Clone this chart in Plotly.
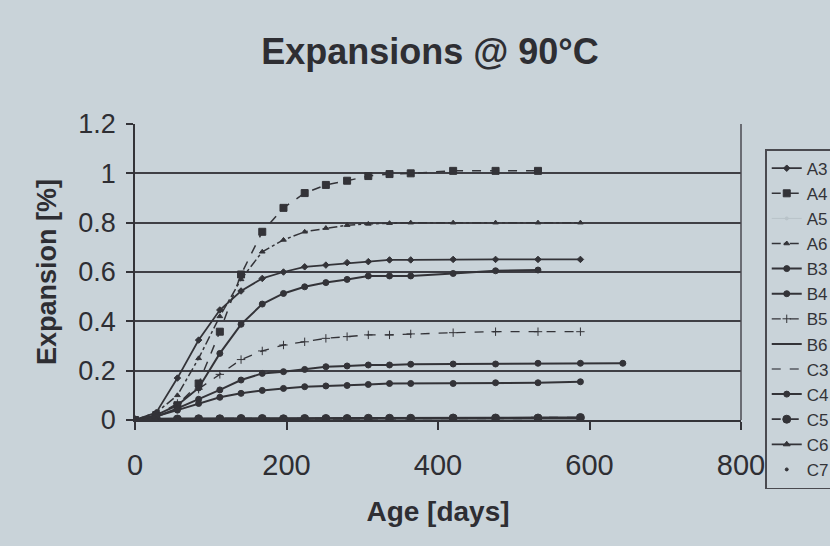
import plotly.graph_objects as go

# ---------------- data ----------------
days = [0, 28, 56, 84, 112, 140, 168, 196, 224, 252, 280, 308, 336, 364, 420, 476, 532, 588]
days_long = days + [644]
days_a4 = days[:17]
days_b3 = days[:17]

A3 = [0, 0.03, 0.17, 0.324, 0.446, 0.523, 0.574, 0.600, 0.621, 0.628, 0.638, 0.642, 0.649, 0.649, 0.651, 0.651, 0.651, 0.651]
A4 = [0, 0.02, 0.06, 0.148, 0.358, 0.590, 0.763, 0.860, 0.920, 0.953, 0.970, 0.989, 0.997, 1.000, 1.010, 1.010, 1.010]
A5 = [0, 0.004, 0.005, 0.005, 0.006, 0.006, 0.006, 0.006, 0.007, 0.007, 0.007, 0.007, 0.008, 0.008, 0.008, 0.008, 0.009, 0.009]
A6 = [0, 0.03, 0.10, 0.25, 0.42, 0.57, 0.682, 0.730, 0.763, 0.778, 0.790, 0.795, 0.798, 0.800, 0.800, 0.800, 0.800, 0.800]
B3 = [0, 0.02, 0.06, 0.13, 0.270, 0.388, 0.470, 0.513, 0.540, 0.557, 0.570, 0.584, 0.584, 0.584, 0.594, 0.605, 0.608]
B4 = [0, 0.013, 0.047, 0.084, 0.122, 0.162, 0.189, 0.196, 0.205, 0.216, 0.219, 0.223, 0.223, 0.226, 0.227, 0.227, 0.230, 0.230, 0.230]
B5 = [0, 0.02, 0.067, 0.125, 0.185, 0.245, 0.280, 0.304, 0.317, 0.331, 0.338, 0.345, 0.345, 0.349, 0.354, 0.358, 0.358, 0.358]
B6 = [0, 0.005, 0.006, 0.006, 0.007, 0.006, 0.007, 0.007, 0.007, 0.008, 0.008, 0.008, 0.008, 0.009, 0.009, 0.009, 0.010, 0.010]
C3 = [0, 0.003, 0.004, 0.004, 0.004, 0.005, 0.005, 0.005, 0.005, 0.005, 0.006, 0.006, 0.006, 0.006, 0.006, 0.007, 0.007, 0.007]
C4 = [0, 0.015, 0.040, 0.067, 0.092, 0.108, 0.120, 0.128, 0.135, 0.138, 0.140, 0.144, 0.148, 0.148, 0.148, 0.151, 0.151, 0.155]
C5 = [0, 0.005, 0.004, 0.005, 0.005, 0.006, 0.006, 0.005, 0.006, 0.006, 0.006, 0.007, 0.007, 0.007, 0.008, 0.008, 0.008, 0.010]
C6 = [0, 0.002, 0.003, 0.003, 0.003, 0.004, 0.004, 0.004, 0.004, 0.005, 0.005, 0.005, 0.005, 0.005, 0.006, 0.006, 0.006, 0.006]
C7 = [0, 0.001, 0.002, 0.002, 0.002, 0.003, 0.003, 0.003, 0.003, 0.003, 0.004, 0.004, 0.004, 0.004, 0.004, 0.005, 0.005, 0.005]

x_ticks = [0, 200, 400, 600, 800]
y_ticks = [0, 0.2, 0.4, 0.6, 0.8, 1.0, 1.2]
y_tick_text = ["0", "0.2", "0.4", "0.6", "0.8", "1", "1.2"]
grid_vals = [0.2, 0.4, 0.6, 0.8, 1.0]

# ---------------- styling ----------------
INK = "#333338"
TXT = "#2e2e33"
PAPER = "#c9d3d9"
FONT = "Liberation Sans, Arial, sans-serif"

series = [
    ("A3", days, A3, "solid", 1.8, "diamond", 5, "lines+markers", INK),
    ("A4", days_a4, A4, "dash", 1.5, "square", 7, "lines+markers", INK),
    ("A5", days, A5, "solid", 1.0, "circle", 3, "lines+markers", "#b9c3c9"),
    ("A6", days, A6, "dashdot", 1.5, "triangle-up", 5, "lines+markers", INK),
    ("B3", days_b3, B3, "solid", 2.0, "circle", 6, "lines+markers", INK),
    ("B4", days_long, B4, "solid", 2.0, "circle", 6, "lines+markers", INK),
    ("B5", days, B5, "dash", 1.3, "cross-thin", 6, "lines+markers", INK),
    ("B6", days, B6, "solid", 2.0, "circle", 1, "lines", INK),
    ("C3", days, C3, "dash", 1.5, "circle", 1, "lines", "#555a60"),
    ("C4", days, C4, "solid", 2.0, "circle", 6, "lines+markers", INK),
    ("C5", days, C5, "dash", 1.8, "circle", 8, "lines+markers", INK),
    ("C6", days, C6, "solid", 1.8, "triangle-up", 6, "lines+markers", INK),
    ("C7", days, C7, "solid", 1.0, "circle", 3, "markers", INK),
]

fig = go.Figure()
for name, xs, ys, dash, lw, sym, ms, mode, col in series:
    fig.add_trace(go.Scatter(
        x=xs, y=ys, name=name, mode=mode,
        line=dict(color=col, width=lw, dash=dash),
        marker=dict(symbol=sym, size=ms, color=col,
                    line=dict(color=col, width=1)),
    ))

fig.update_layout(
    width=830, height=546,
    paper_bgcolor=PAPER, plot_bgcolor=PAPER,
    margin=dict(l=135, r=89, t=124, b=126, autoexpand=False),
    font=dict(family=FONT, color=INK),
    title=dict(text="<b>Expansions @ 90°C</b>", x=0.518, xanchor="center",
               y=0.905, yanchor="middle",
               font=dict(size=36, family=FONT, color=TXT)),
    showlegend=True,
    legend=dict(x=1.04, xanchor="left", y=0.915, yanchor="top",
                bgcolor=PAPER, bordercolor="#4a4a50", borderwidth=1.5,
                font=dict(size=17, family=FONT, color=INK),
                tracegroupgap=0, itemwidth=30, maxheight=520),
)

fig.update_xaxes(
    range=[0, 800], tickvals=x_ticks, ticktext=[str(v) for v in x_ticks],
    showgrid=False, zeroline=False,
    showline=True, linecolor=INK, linewidth=1.5,
    ticks="outside", ticklen=8, tickwidth=1.5, tickcolor=INK,
    ticklabelstandoff=10,
    tickfont=dict(size=29, family=FONT, color=TXT),
    title=dict(text="<b>Age [days]</b>", standoff=22,
               font=dict(size=28, family=FONT, color=TXT)),
)
fig.update_yaxes(
    range=[0, 1.2], tickvals=y_ticks, ticktext=y_tick_text,
    showgrid=False, zeroline=False,
    showline=True, linecolor=INK, linewidth=1.5,
    ticks="outside", ticklen=7, tickwidth=1.5, tickcolor=INK,
    ticklabelstandoff=5,
    tickfont=dict(size=27, family=FONT, color=TXT),
    minor=dict(tickvals=grid_vals, showgrid=True, gridcolor="#3f3f45",
               gridwidth=1.8, ticks=""),
    title=dict(text="<b>Expansion [%]</b>", standoff=14,
               font=dict(size=27, family=FONT, color=TXT)),
)

# right border of the plot area
fig.add_shape(type="line", xref="x domain", yref="y domain",
              x0=1, x1=1, y0=0, y1=1,
              line=dict(color="#4a4a50", width=1.5))

fig.write_html("out.html")
